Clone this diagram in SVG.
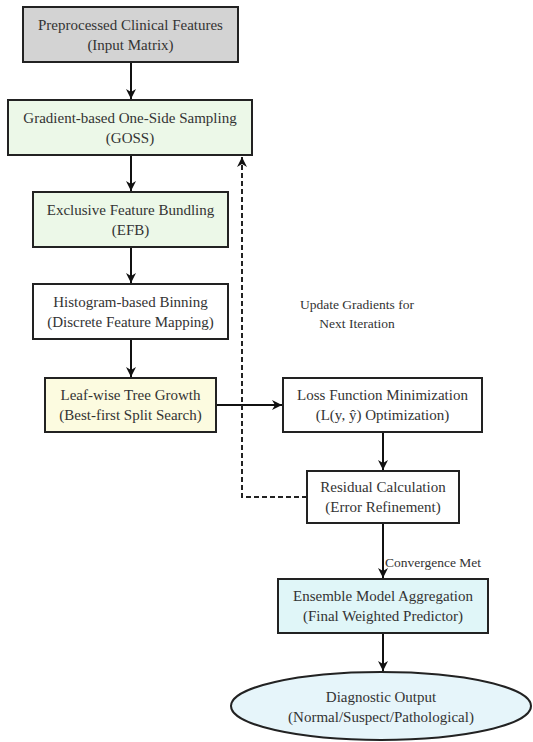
<svg xmlns="http://www.w3.org/2000/svg" width="533" height="742" viewBox="0 0 533 742">
<defs>
<marker id="ah" viewBox="0 0 10 10" refX="10" refY="5" markerWidth="5" markerHeight="6" orient="auto" markerUnits="strokeWidth">
<path d="M0,0 L10,5 L0,10 L3,5 z" fill="#111"/>
</marker>
</defs>
<style>
.box{stroke:#222;stroke-width:2}
.t{font-family:"Liberation Serif","Times New Roman",serif;font-size:15px;fill:#333;text-anchor:middle;dominant-baseline:central}
.lbl{font-family:"Liberation Serif","Times New Roman",serif;font-size:13.5px;fill:#333}
.c{stroke:#111;stroke-width:2;fill:none}
.d{stroke:#222;stroke-width:2;fill:none;stroke-dasharray:5,3}
</style>
<rect width="533" height="742" fill="#fff"/>
<g id="connectors">
<line class="c" x1="131" y1="62" x2="131" y2="99" marker-end="url(#ah)"/>
<line class="c" x1="131" y1="155" x2="131" y2="191" marker-end="url(#ah)"/>
<line class="c" x1="131" y1="247" x2="131" y2="283" marker-end="url(#ah)"/>
<line class="c" x1="131" y1="339" x2="131" y2="377" marker-end="url(#ah)"/>
<line class="c" x1="216" y1="405" x2="282" y2="405" marker-end="url(#ah)"/>
<line class="c" x1="383" y1="432" x2="383" y2="470" marker-end="url(#ah)"/>
<line class="c" x1="383" y1="523" x2="383" y2="578" marker-end="url(#ah)"/>
<line class="c" x1="383" y1="633" x2="383" y2="671" marker-end="url(#ah)"/>
<polyline class="d" points="307,497 242,497 242,157" marker-end="url(#ah)"/>
<text class="lbl" x="357" y="304" text-anchor="middle" dominant-baseline="central">Update Gradients for</text>
<text class="lbl" x="357" y="323" text-anchor="middle" dominant-baseline="central">Next Iteration</text>
<text class="lbl" x="385" y="562" dominant-baseline="central">Convergence Met</text>
</g>
<g id="n1">
<rect class="box" x="23" y="7" width="215" height="55" fill="#d3d3d3"/>
<text class="t" x="130.5" y="25">Preprocessed Clinical Features</text>
<text class="t" x="130.5" y="45">(Input Matrix)</text>
</g>
<g id="n2">
<rect class="box" x="8" y="100" width="244" height="55" fill="#ecf8e8"/>
<text class="t" x="130" y="118">Gradient-based One-Side Sampling</text>
<text class="t" x="130" y="138">(GOSS)</text>
</g>
<g id="n3">
<rect class="box" x="33" y="192" width="195" height="55" fill="#ecf8e8"/>
<text class="t" x="130.5" y="210">Exclusive Feature Bundling</text>
<text class="t" x="130.5" y="230">(EFB)</text>
</g>
<g id="n4">
<rect class="box" x="33" y="284" width="195" height="55" fill="#fff"/>
<text class="t" x="130.5" y="302">Histogram-based Binning</text>
<text class="t" x="130.5" y="322">(Discrete Feature Mapping)</text>
</g>
<g id="n5">
<rect class="box" x="45" y="378" width="171" height="54" fill="#fcfbe0"/>
<text class="t" x="130.5" y="395">Leaf-wise Tree Growth</text>
<text class="t" x="130.5" y="415">(Best-first Split Search)</text>
</g>
<g id="n6">
<rect class="box" x="283" y="378" width="199" height="54" fill="#fff"/>
<text class="t" x="382.5" y="395">Loss Function Minimization</text>
<text class="t" x="382.5" y="415">(L(y, ŷ) Optimization)</text>
</g>
<g id="n7">
<rect class="box" x="307" y="471" width="152" height="52" fill="#fff"/>
<text class="t" x="383" y="487">Residual Calculation</text>
<text class="t" x="383" y="507">(Error Refinement)</text>
</g>
<g id="n8">
<rect class="box" x="278" y="579" width="210" height="54" fill="#e0f6f8"/>
<text class="t" x="383" y="596">Ensemble Model Aggregation</text>
<text class="t" x="383" y="616">(Final Weighted Predictor)</text>
</g>
<g id="n9">
<ellipse class="box" cx="381" cy="706" rx="150" ry="34" fill="#e6f5fa"/>
<text class="t" x="381" y="697">Diagnostic Output</text>
<text class="t" x="381" y="717">(Normal/Suspect/Pathological)</text>
</g>
</svg>
